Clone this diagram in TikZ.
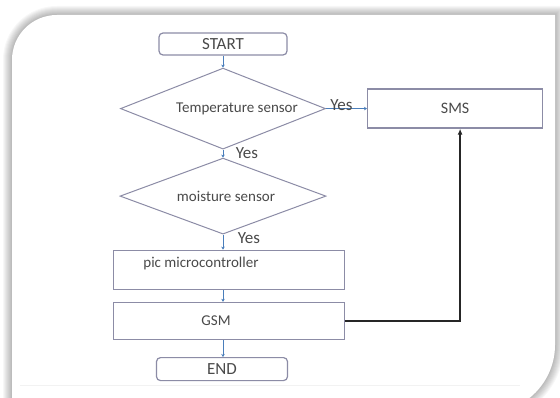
\documentclass[tikz,border=0pt]{standalone}
\usepackage{fontspec}
\setmainfont{Carlito}
\usetikzlibrary{positioning,shapes.geometric,arrows.meta}

\definecolor{boxline}{HTML}{8C8CA6}
\definecolor{flowblue}{HTML}{4A7EBB}
\definecolor{labeltext}{HTML}{4A4A4A}

\newcommand{\panelpath}{(12,420) -- (12,60) .. controls (12,35) and (32,15) .. (57,15) -- (555,15) -- (555,345) .. controls (555,381) and (526,412) .. (490,412) -- (12,412) -- cycle}

\begin{document}
\begin{tikzpicture}[x=1pt,y=-1pt,
        termbox/.style={rectangle, rounded corners=4pt, draw=boxline, line width=1.2pt, text=labeltext, font=\fontsize{17}{19}\selectfont, minimum width=128pt, minimum height=22pt, inner sep=0pt},
        procbox/.style={rectangle, draw=boxline, line width=1.2pt, text=labeltext, font=\fontsize{15}{17}\selectfont, minimum width=231pt, minimum height=39pt, inner sep=0pt},
        decision/.style={diamond, aspect=2.5, draw=boxline, line width=1pt, minimum width=205pt, minimum height=81pt, inner sep=0pt},
        innertext/.style={text=labeltext, font=\fontsize{15}{17}\selectfont},
        flow/.style={->, >={Stealth[length=3pt,width=3.5pt]}, draw=flowblue, line width=0.8pt},
        yeslabel/.style={text=labeltext, font=\fontsize{17}{19}\selectfont, inner sep=0.5pt},
]
        % panel with soft shadow
        \useasboundingbox (0,0) rectangle (560,398);
        \fill[white] (0,0) rectangle (560,398);
        \foreach \w in {2,4,...,18}
            \draw[black, opacity=0.03, line width=\w pt] \panelpath;
        \fill[white] \panelpath;
        \draw[black!5, line width=0.6pt] (20,385) -- (520,385);

        \node[termbox] (start) at (223,44) {START};
        \node[decision] (temp) [below=12pt of start] {};
        \node[innertext] (templabel) at ([xshift=14pt]temp.center) {Temperature sensor};
        \node[procbox, minimum width=175pt, font=\fontsize{16}{18}\selectfont] (sms) [right=41pt of temp] {SMS};
        \node[decision, minimum width=206pt, minimum height=76pt] (moist) [below=8pt of temp] {};
        \node[innertext] (moistlabel) at ([xshift=3pt]moist.center) {moisture sensor};
        \node[procbox] (pic) [below=15pt of moist, xshift=6pt] {};
        \node[innertext, anchor=west] (piclabel) at ([xshift=27pt,yshift=6pt]pic.west) {pic microcontroller};
        \node[procbox, minimum height=37pt] (gsm) [below=12pt of pic] {};
        \node[innertext] (gsmlabel) at ([xshift=-13pt]gsm.center) {GSM};
        \node[termbox, minimum width=131pt, minimum height=23pt] (end) [below=17pt of gsm, xshift=-7pt] {END};

        \draw[flow] (start.south) -- (temp.north);
        \draw[flow] (temp.east) -- node[yeslabel, midway, above, xshift=-5pt, yshift=-3pt] (yesa) {Yes} (sms.west);
        \draw[flow] (temp.south) -- node[yeslabel, midway, right, xshift=12pt] (yesb) {Yes} (moist.north);
        \draw[flow] (moist.south) -- node[yeslabel, midway, right, xshift=14pt, yshift=4pt] (yesc) {Yes} (moist.south |- pic.north);
        \draw[flow] (moist.south |- pic.south) -- (moist.south |- gsm.north);
        \draw[flow] (moist.south |- gsm.south) -- (moist.south |- end.north);
        \draw[-{Latex[length=6pt,width=5pt]}, draw=black!85, line width=1.8pt] (gsm.east) -| ([xshift=5pt]sms.south);
\end{tikzpicture}
\end{document}
